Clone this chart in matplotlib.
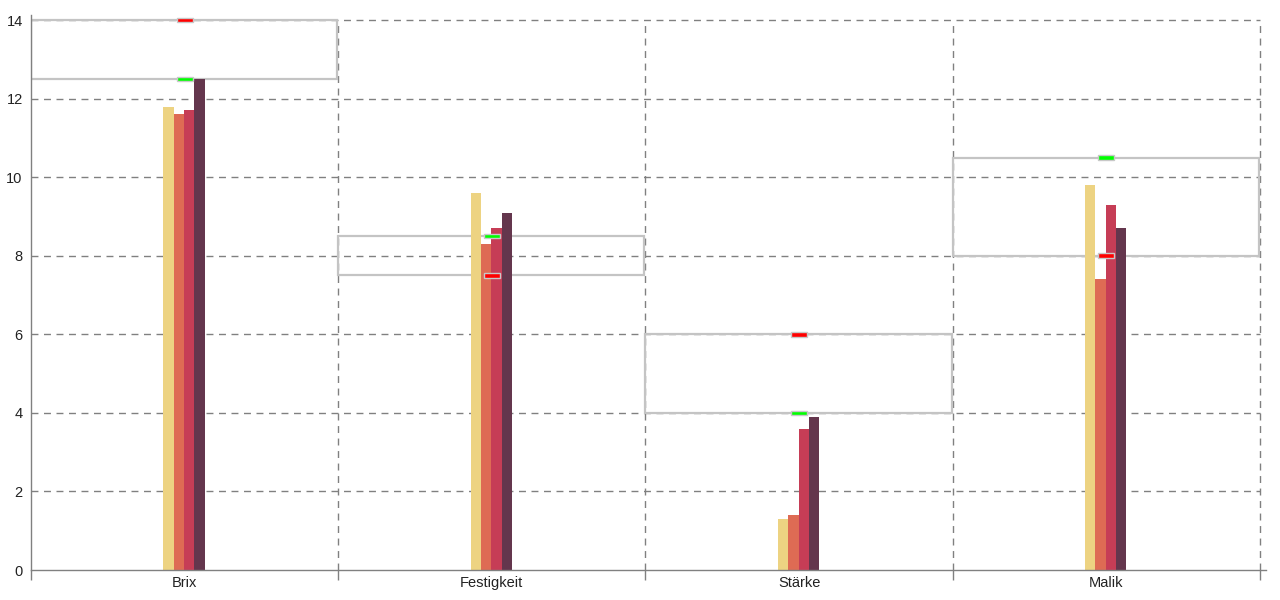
import matplotlib
matplotlib.use("Agg")
import matplotlib.pyplot as plt
import numpy as np

plt.rcParams['font.family'] = ['Liberation Sans', 'DejaVu Sans']

categories = ["Brix", "Festigkeit", "Stärke", "Malik"]
series_a = [11.8, 9.6, 1.3, 9.8]
series_b = [11.6, 8.3, 1.4, 7.4]
series_c = [11.7, 8.7, 3.6, 9.3]
series_d = [12.5, 9.1, 3.9, 8.7]
target_green = [12.5, 8.5, 4.0, 10.5]
target_red = [14.0, 7.5, 6.0, 8.0]
y_ticks = [0, 2, 4, 6, 8, 10, 12, 14]

colors = ["#EDD382", "#DE6B54", "#C63D56", "#64364D"]
series = [series_a, series_b, series_c, series_d]

fig = plt.figure(figsize=(12.8, 6), dpi=100)
ax = fig.add_axes([31/1280, 30/600, (1266-31)/1280, (585-30)/600])

x = np.arange(len(categories))
n = len(categories)
gridc = "#808080"

# grid lines
ax.hlines(y_ticks[1:], -0.5, n - 0.5, colors=gridc, linestyles=(0, (5, 4)), lw=1, zorder=0)
ax.vlines(np.arange(n) + 0.5, 0, max(y_ticks), colors=gridc, linestyles=(0, (5, 4)), lw=1, zorder=0)

# range boxes
lo = np.minimum(target_green, target_red)
hi = np.maximum(target_green, target_red)
ax.bar(x - 0.002, hi - lo, bottom=lo, width=0.996, fill=False, edgecolor="#c4c4c4", lw=1.6, zorder=1)

# bars
bw = 0.0334
for k, (vals, c) in enumerate(zip(series, colors)):
    ax.bar(x - 0.002 + (k - 1.5) * bw, vals, width=bw, color=c, zorder=2, lw=0)

# markers
mh = 0.12
mw = 0.052
ax.bar(x, [mh] * n, bottom=np.array(target_green) - mh / 2, width=mw, color="#00ff00",
       edgecolor="#c8c8c8", lw=1, zorder=3)
ax.bar(x, [mh] * n, bottom=np.array(target_red) - mh / 2, width=mw, color="#ff0000",
       edgecolor="#c8c8c8", lw=1, zorder=3)

ax.set_xlim(-0.5, n - 0.5 + 6/307)
ax.set_ylim(0, 14.13)

for s in ["top", "right"]:
    ax.spines[s].set_visible(False)
for s in ["left", "bottom"]:
    ax.spines[s].set_color(gridc)
    ax.spines[s].set_linewidth(1)

ax.set_yticks(y_ticks)
ax.set_yticklabels([str(v) for v in y_ticks], fontsize=10.5, color="#222222")
ax.tick_params(axis="y", length=0, pad=6)

ax.set_xticks(x)
ax.set_xticklabels(categories, fontsize=10.5, color="#222222")
ax.set_xticks(np.arange(n + 1) - 0.5, minor=True)
ax.tick_params(axis="x", which="major", length=0, pad=4)
ax.tick_params(axis="x", which="minor", length=7, width=1, color=gridc)

fig.savefig("out.png", dpi=100)
